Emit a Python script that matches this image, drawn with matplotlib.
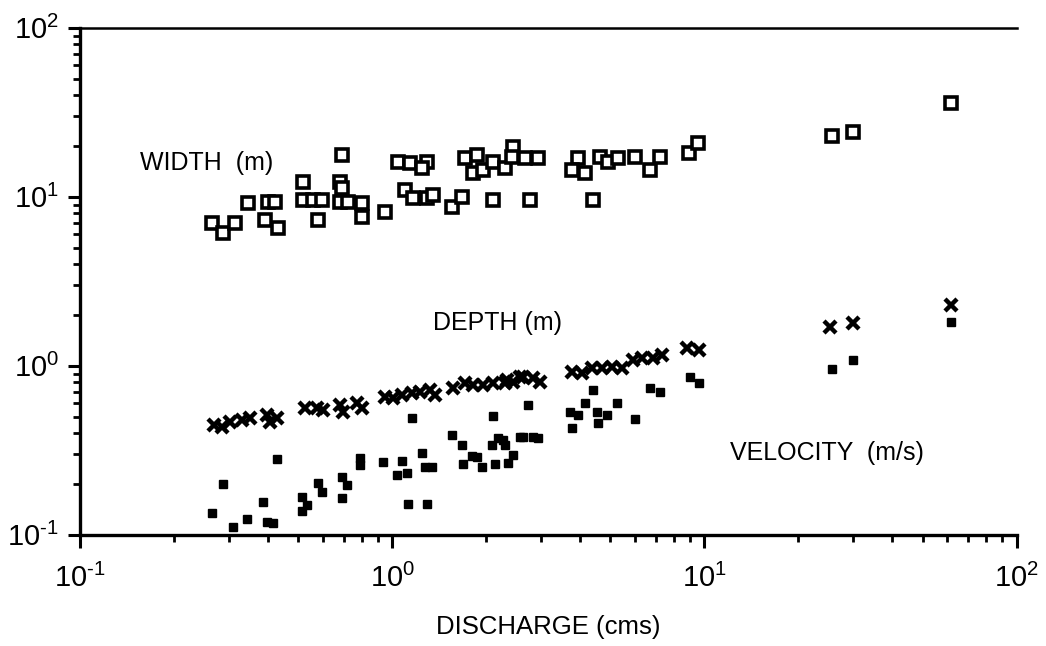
import numpy as np
import matplotlib.pyplot as plt
from matplotlib.ticker import LogLocator, FuncFormatter

plt.rcParams['font.family'] = ['Liberation Sans', 'DejaVu Sans']
plt.rcParams['mathtext.fontset'] = 'custom'
plt.rcParams['mathtext.rm'] = 'Liberation Sans'
plt.rcParams['mathtext.default'] = 'regular'

# Width (m) vs discharge (cms)
q_width = [0.265, 0.287, 0.314, 0.345, 0.392, 0.401, 0.422, 0.431, 0.519, 0.519,
           0.558, 0.597, 0.579, 0.691, 0.681, 0.691, 0.681, 0.722, 0.801, 0.801,
           0.950, 1.045, 1.142, 1.294, 1.247, 1.101, 1.167, 1.294, 1.353, 1.557,
           1.675, 1.714, 1.871, 1.818, 1.957, 2.108, 2.302, 2.442, 2.425, 2.668,
           2.937, 2.108, 2.768, 3.946, 3.776, 4.157, 4.641, 4.922, 5.299, 6.006,
           6.710, 7.227, 8.89, 9.50, 4.407, 25.7, 30.0, 61.4]
width = [7.02, 6.12, 7.02, 9.21, 7.31, 9.34, 9.34, 6.56, 12.3, 9.60,
         9.60, 9.60, 7.31, 17.7, 12.3, 11.3, 9.34, 9.34, 9.21, 7.62,
         8.15, 16.1, 15.9, 16.1, 14.9, 11.0, 9.87, 9.87, 10.3, 8.73,
         10.0, 17.0, 17.7, 13.9, 14.5, 16.1, 14.9, 19.7, 17.3, 17.0,
         17.0, 9.60, 9.60, 17.0, 14.5, 13.9, 17.3, 16.1, 17.0, 17.3,
         14.5, 17.3, 18.2, 20.9, 9.60, 22.9, 24.2, 35.9]

# Depth (m)
q_depth = [0.268, 0.285, 0.303, 0.331, 0.351, 0.397, 0.406, 0.427, 0.526, 0.575,
           0.601, 0.681, 0.697, 0.772, 0.801, 0.950, 1.007, 1.076, 1.159, 1.230,
           1.324, 1.374, 1.570, 1.714, 1.818, 1.957, 2.108, 2.302, 2.442, 2.630,
           2.337, 2.572, 2.831, 2.981, 3.776, 4.064, 4.377, 4.711, 5.070, 5.458,
           5.918, 6.324, 6.866, 7.331, 8.82, 9.57, 25.3, 30.0, 61.4]
depth = [0.448, 0.436, 0.466, 0.479, 0.492, 0.513, 0.466, 0.492, 0.564, 0.564,
         0.549, 0.588, 0.534, 0.604, 0.564, 0.656, 0.647, 0.673, 0.692, 0.702,
         0.721, 0.673, 0.741, 0.793, 0.772, 0.772, 0.793, 0.793, 0.804, 0.861,
         0.827, 0.861, 0.849, 0.804, 0.921, 0.910, 0.974, 0.974, 0.987, 0.974,
         1.09, 1.11, 1.11, 1.16, 1.28, 1.24, 1.70, 1.79, 2.30]

# Velocity (m/s)
q_vel = [0.265, 0.287, 0.309, 0.343, 0.386, 0.397, 0.415, 0.427, 0.515, 0.515,
         0.534, 0.579, 0.597, 0.691, 0.717, 0.691, 0.789, 0.789, 0.935, 1.076,
         1.038, 1.117, 1.159, 1.125, 1.294, 1.247, 1.275, 1.343, 1.557, 1.675,
         1.690, 1.804, 1.871, 1.942, 2.108, 2.092, 2.188, 2.302, 2.139, 2.354,
         2.442, 2.572, 2.728, 2.630, 2.831, 2.937, 2.270, 4.407, 4.157, 3.720,
         3.946, 3.776, 4.537, 4.886, 4.571, 5.260, 6.006, 6.710, 7.227, 9.02,
         9.57, 25.7, 30.0, 61.4]
velocity = [0.135, 0.200, 0.111, 0.124, 0.157, 0.119, 0.118, 0.282, 0.168, 0.139,
            0.151, 0.203, 0.180, 0.220, 0.198, 0.166, 0.286, 0.259, 0.271, 0.274,
            0.226, 0.233, 0.492, 0.153, 0.153, 0.306, 0.252, 0.252, 0.391, 0.341,
            0.263, 0.293, 0.290, 0.252, 0.506, 0.341, 0.375, 0.341, 0.263, 0.267,
            0.297, 0.380, 0.588, 0.380, 0.380, 0.375, 0.365, 0.721, 0.604, 0.534,
            0.513, 0.430, 0.534, 0.513, 0.460, 0.604, 0.485, 0.741, 0.702, 0.861,
            0.793, 0.960, 1.09, 1.82]


def pow10(v, pos):
    e = int(round(np.log10(v)))
    if e < 0:
        return r'$10^{\text{-}%d}$' % (-e)
    return r'$10^{%d}$' % e


fig = plt.figure(figsize=(10.46, 6.46), dpi=100)
ax = fig.add_axes([0.0765, 0.172, 0.8955, 0.785])

ax.plot(q_width, width, 's', ms=8.5, mfc='white', mec='black', mew=2.6, ls='none')
ax.plot(q_depth, depth, 'x', ms=8.5, mec='black', mew=3.2, ls='none')
ax.plot(q_vel, velocity, 's', ms=5.5, mfc='black', mec='black', ls='none')

ax.set_xscale('log')
ax.set_yscale('log')
ax.set_xlim(0.1, 100)
ax.set_ylim(0.1, 100)

ax.xaxis.set_major_locator(LogLocator(base=10, numticks=10))
ax.yaxis.set_major_locator(LogLocator(base=10, numticks=10))
ax.xaxis.set_minor_locator(LogLocator(base=10, subs=np.arange(2, 10), numticks=30))
ax.yaxis.set_minor_locator(LogLocator(base=10, subs=np.arange(2, 10), numticks=30))
ax.xaxis.set_major_formatter(FuncFormatter(pow10))
ax.yaxis.set_major_formatter(FuncFormatter(pow10))

ax.tick_params(which='major', direction='out', length=9, width=2.2, labelsize=21)
ax.tick_params(axis='x', which='major', pad=12)
ax.tick_params(axis='y', which='major', pad=6)
ax.tick_params(which='minor', direction='out', length=5, width=2.0)
ax.tick_params(axis='x', which='both', top=False)
ax.tick_params(axis='y', which='both', right=False)

ax.spines['right'].set_visible(False)
ax.spines['left'].set_linewidth(2.4)
ax.spines['bottom'].set_linewidth(2.4)
ax.spines['top'].set_linewidth(1.8)

ax.set_xlabel('DISCHARGE (cms)', fontsize=18.5, labelpad=16)

ax.text(0.156, 15.9, 'WIDTH  (m)', fontsize=18, ha='left', va='center')
ax.text(1.353, 1.79, 'DEPTH (m)', fontsize=18, ha='left', va='center')
ax.text(12.1, 0.306, 'VELOCITY  (m/s)', fontsize=18, ha='left', va='center')

plt.savefig('out.png', dpi=100)
